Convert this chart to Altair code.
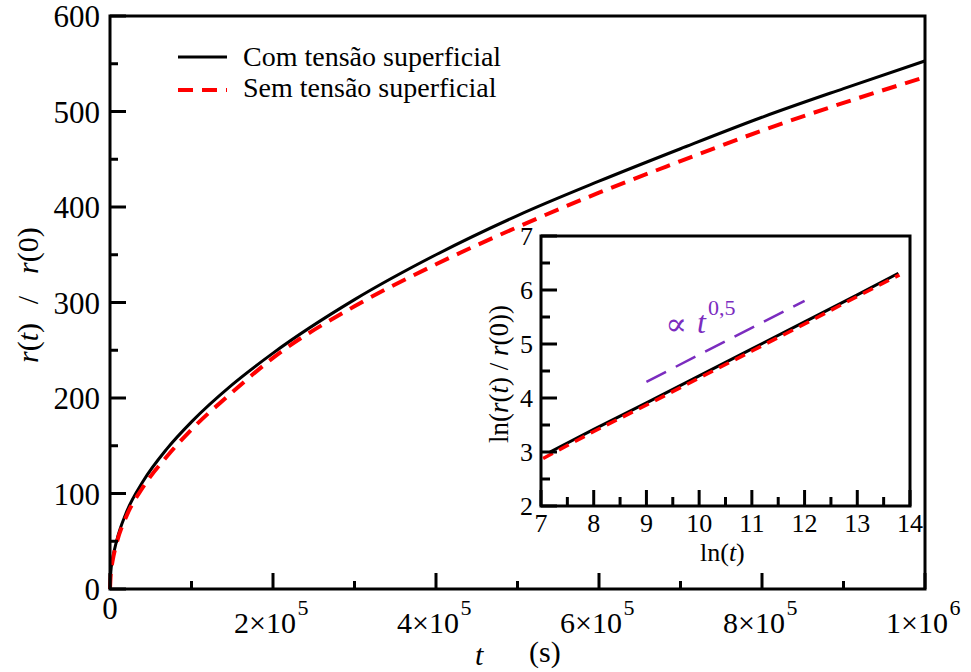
import altair as alt
import pandas as pd

# ---------------- data ----------------
t_s = [0, 1000, 3000, 8000, 20000, 40000, 70000, 100000, 150000, 200000,
       300000, 400000, 500000, 600000, 700000, 800000, 900000, 1000000]
r_com = [0, 18, 30.5, 50, 80, 112, 147, 175, 214, 247,
         303, 350, 391, 427, 461, 494, 524, 553]
r_sem = [0, 17, 28.5, 47.5, 76, 106, 139, 167, 206, 242,
         296, 340, 379, 415, 448, 480, 509, 536]

ln_t_com = [7.17, 8, 9, 10, 11, 12, 13, 13.78]
ln_r_com = [3.00, 3.42, 3.91, 4.41, 4.91, 5.41, 5.91, 6.31]
ln_t_sem = [7.04, 8, 9, 10, 11, 12, 13, 13.80]
ln_r_sem = [2.88, 3.38, 3.87, 4.37, 4.87, 5.37, 5.88, 6.28]

ref_ln_t = [9, 12]
ref_ln_r = [4.3, 5.8]

y_major = [0, 100, 200, 300, 400, 500, 600]
y_minor = [50, 150, 250, 350, 450, 550]
x_major = [0, 200000, 400000, 600000, 800000, 1000000]
x_minor = [100000, 300000, 500000, 700000, 900000]
x_lab_vals = [200000, 400000, 600000, 800000, 1000000]
x_lab_base = ["2×10", "4×10", "6×10", "8×10", "1×10"]
x_lab_exp = ["5", "5", "5", "5", "6"]

in_x_major = [7, 8, 9, 10, 11, 12, 13, 14]
in_x_minor = [7.5, 8.5, 9.5, 10.5, 11.5, 12.5, 13.5]
in_y_major = [2, 3, 4, 5, 6, 7]
in_y_minor = [2.5, 3.5, 4.5, 5.5, 6.5]

legend_labels = ["Com tensão superficial", "Sem tensão superficial"]

# ---------------- layout ----------------
W, H = 815, 573
F = "'Liberation Serif', 'Times New Roman', 'DejaVu Serif', serif"
ONE = pd.DataFrame({"a": [0]})
PURPLE = "#7B2CBF"

sx = alt.Scale(domain=[0, 1000000], nice=False, zero=False)
sy = alt.Scale(domain=[0, 600], nice=False, zero=False)
sxi = alt.Scale(domain=[7, 14], range=[431, 800], nice=False, zero=False)
syi = alt.Scale(domain=[2, 7], range=[490, 220], nice=False, zero=False)

main_df = pd.DataFrame({"t": t_s, "com": r_com, "sem": r_sem})


def vals(v, **extra):
    d = {"v": v}
    d.update(extra)
    return pd.DataFrame(d)


def txt(s, x, y, size, italic=False, color="black", angle=0, align="left", baseline="alphabetic"):
    kw = dict(text=s, font=F, fontSize=size, color=color, align=align, baseline=baseline)
    if italic:
        kw["fontStyle"] = "italic"
    if angle:
        kw["angle"] = angle
    return alt.Chart(ONE).mark_text(**kw).encode(x=alt.value(x), y=alt.value(y))


# Times-like advance widths (em) for sequential italic/roman pieces
WID = {"l": .278, "n": .5, "(": .333, ")": .333, " ": .25, "/": .278, "0": .5,
       "s": .389, "r": .389, "t": .278}


def seq(parts, x0, y0, size, angle=0):
    out = []
    pos = 0.0
    for s, it in parts:
        if angle == 270:
            out.append(txt(s, x0, y0 - pos, size, italic=it, angle=270))
        else:
            out.append(txt(s, x0 + pos, y0, size, italic=it))
        pos += sum(WID.get(c, .5) for c in s) * size
    return out


# ---------------- main panel ----------------
line_com = alt.Chart(main_df).mark_line(color="black", strokeWidth=3, interpolate="monotone").encode(
    x=alt.X("t:Q", scale=sx, axis=None), y=alt.Y("com:Q", scale=sy, axis=None))
line_sem = alt.Chart(main_df).mark_line(color="#ff0000", strokeWidth=4, strokeDash=[15, 9],
                                        interpolate="monotone").encode(
    x=alt.X("t:Q", scale=sx, axis=None), y=alt.Y("sem:Q", scale=sy, axis=None))

frame = alt.Chart(ONE).mark_rect(fill=None, stroke="black", strokeWidth=3).encode(
    x=alt.value(0), x2=alt.value(W), y=alt.value(0), y2=alt.value(H))

ytick_major = alt.Chart(vals(y_major)).mark_rule(color="black", strokeWidth=3).encode(
    y=alt.Y("v:Q", scale=sy, axis=None), x=alt.value(0), x2=alt.value(16))
ytick_minor = alt.Chart(vals(y_minor)).mark_rule(color="black", strokeWidth=3).encode(
    y=alt.Y("v:Q", scale=sy, axis=None), x=alt.value(0), x2=alt.value(8))
xtick_major = alt.Chart(vals(x_major)).mark_rule(color="black", strokeWidth=3).encode(
    x=alt.X("v:Q", scale=sx, axis=None), y=alt.value(H), y2=alt.value(H - 16))
xtick_minor = alt.Chart(vals(x_minor)).mark_rule(color="black", strokeWidth=3).encode(
    x=alt.X("v:Q", scale=sx, axis=None), y=alt.value(H), y2=alt.value(H - 8))

ylab = alt.Chart(vals(y_major, lab=[str(v) for v in y_major])).mark_text(
    font=F, fontSize=31, align="right", baseline="alphabetic", dx=-10, dy=11).encode(
    y=alt.Y("v:Q", scale=sy, axis=None), x=alt.value(0), text="lab:N")
xlab0 = alt.Chart(vals([0], lab=["0"])).mark_text(
    font=F, fontSize=31, align="center", baseline="alphabetic", dy=30).encode(
    x=alt.X("v:Q", scale=sx, axis=None), y=alt.value(H), text="lab:N")
xlab_b = alt.Chart(vals(x_lab_vals, lab=x_lab_base)).mark_text(
    font=F, fontSize=30, align="center", baseline="alphabetic", dx=-8, dy=44).encode(
    x=alt.X("v:Q", scale=sx, axis=None), y=alt.value(H), text="lab:N")
xlab_e = alt.Chart(vals(x_lab_vals, lab=x_lab_exp)).mark_text(
    font=F, fontSize=22, align="center", baseline="alphabetic", dx=30, dy=26).encode(
    x=alt.X("v:Q", scale=sx, axis=None), y=alt.value(H), text="lab:N")

# axis titles
xtitle = [txt("t", 365, 649, 30, italic=True), txt("(s)", 419, 646, 30)]
ytitle = seq([("r", True), ("(", False), ("t", True), (")", False)], -72, 347, 30, angle=270) + \
    [txt("/", -72, 284, 30, angle=270, align="center")] + \
    seq([("r", True), ("(0)", False)], -72, 258, 30, angle=270)

# legend
leg = [
    alt.Chart(ONE).mark_rule(color="black", strokeWidth=3).encode(
        x=alt.value(68), x2=alt.value(117), y=alt.value(41)),
    alt.Chart(ONE).mark_rule(color="#ff0000", strokeWidth=4, strokeDash=[15, 9]).encode(
        x=alt.value(68), x2=alt.value(117), y=alt.value(74)),
    txt(legend_labels[0], 133, 50, 28),
    txt(legend_labels[1], 133, 81, 28),
]

main = alt.layer(line_com, line_sem, ytick_major, ytick_minor, xtick_major, xtick_minor,
                 ylab, xlab0, xlab_b, xlab_e, frame, *xtitle, *ytitle, *leg)

# ---------------- inset ----------------
inset_box = alt.Chart(ONE).mark_rect(fill="white", stroke="black", strokeWidth=3).encode(
    x=alt.XDatum(7, scale=sxi, axis=None), x2=alt.X2Datum(14),
    y=alt.YDatum(2, scale=syi, axis=None), y2=alt.Y2Datum(7))

in_com = alt.Chart(pd.DataFrame({"x": ln_t_com, "y": ln_r_com})).mark_line(
    color="black", strokeWidth=3).encode(
    x=alt.X("x:Q", scale=sxi, axis=None), y=alt.Y("y:Q", scale=syi, axis=None))
in_sem = alt.Chart(pd.DataFrame({"x": ln_t_sem, "y": ln_r_sem})).mark_line(
    color="#ff0000", strokeWidth=3.5, strokeDash=[11, 7]).encode(
    x=alt.X("x:Q", scale=sxi, axis=None), y=alt.Y("y:Q", scale=syi, axis=None))
in_ref = alt.Chart(pd.DataFrame({"x": ref_ln_t, "y": ref_ln_r})).mark_line(
    color=PURPLE, strokeWidth=2.5, strokeDash=[22, 11]).encode(
    x=alt.X("x:Q", scale=sxi, axis=None), y=alt.Y("y:Q", scale=syi, axis=None))

in_yt_maj = alt.Chart(vals(in_y_major)).mark_rule(color="black", strokeWidth=3, x2Offset=16).encode(
    y=alt.Y("v:Q", scale=syi, axis=None), x=alt.XDatum(7, scale=sxi, axis=None), x2=alt.X2Datum(7))
in_yt_min = alt.Chart(vals(in_y_minor)).mark_rule(color="black", strokeWidth=3, x2Offset=9).encode(
    y=alt.Y("v:Q", scale=syi, axis=None), x=alt.XDatum(7, scale=sxi, axis=None), x2=alt.X2Datum(7))
in_xt_maj = alt.Chart(vals(in_x_major)).mark_rule(color="black", strokeWidth=3, y2Offset=-16).encode(
    x=alt.X("v:Q", scale=sxi, axis=None), y=alt.YDatum(2, scale=syi, axis=None), y2=alt.Y2Datum(2))
in_xt_min = alt.Chart(vals(in_x_minor)).mark_rule(color="black", strokeWidth=3, y2Offset=-9).encode(
    x=alt.X("v:Q", scale=sxi, axis=None), y=alt.YDatum(2, scale=syi, axis=None), y2=alt.Y2Datum(2))

in_ylab = alt.Chart(vals(in_y_major, lab=[str(v) for v in in_y_major])).mark_text(
    font=F, fontSize=26, align="right", baseline="alphabetic", dx=-8, dy=9).encode(
    y=alt.Y("v:Q", scale=syi, axis=None), x=alt.XDatum(7, scale=sxi, axis=None), text="lab:N")
in_xlab = alt.Chart(vals(in_x_major, lab=[str(v) for v in in_x_major])).mark_text(
    font=F, fontSize=26, align="center", baseline="alphabetic", dy=26).encode(
    x=alt.X("v:Q", scale=sxi, axis=None), y=alt.YDatum(2, scale=syi, axis=None), text="lab:N")

in_xtitle = seq([("ln(", False), ("t", True), (")", False)], 590, 545, 26)
in_ytitle = seq([("ln(", False), ("r", True), ("(", False), ("t", True), (") / ", False),
                 ("r", True), ("(0))", False)], 398, 427, 27, angle=270)

prop = [
    txt("∝", 566, 309, 32, color=PURPLE, align="center", baseline="middle"),
    txt("t", 587, 317, 32, italic=True, color=PURPLE),
    txt("0,5", 598, 299, 22, color=PURPLE),
]

inset = alt.layer(inset_box, in_com, in_sem, in_ref, in_yt_maj, in_yt_min, in_xt_maj, in_xt_min,
                  in_ylab, in_xlab, *in_xtitle, *in_ytitle, *prop)

chart = alt.layer(main, inset).resolve_scale(x="independent", y="independent").properties(
    width=W, height=H,
    autosize=alt.AutoSizeParams(type="none"),
    padding={"left": 110, "top": 16, "right": 46, "bottom": 83},
).configure_view(stroke=None)

chart.save("out.html", embed_options={"renderer": "svg", "actions": False})
